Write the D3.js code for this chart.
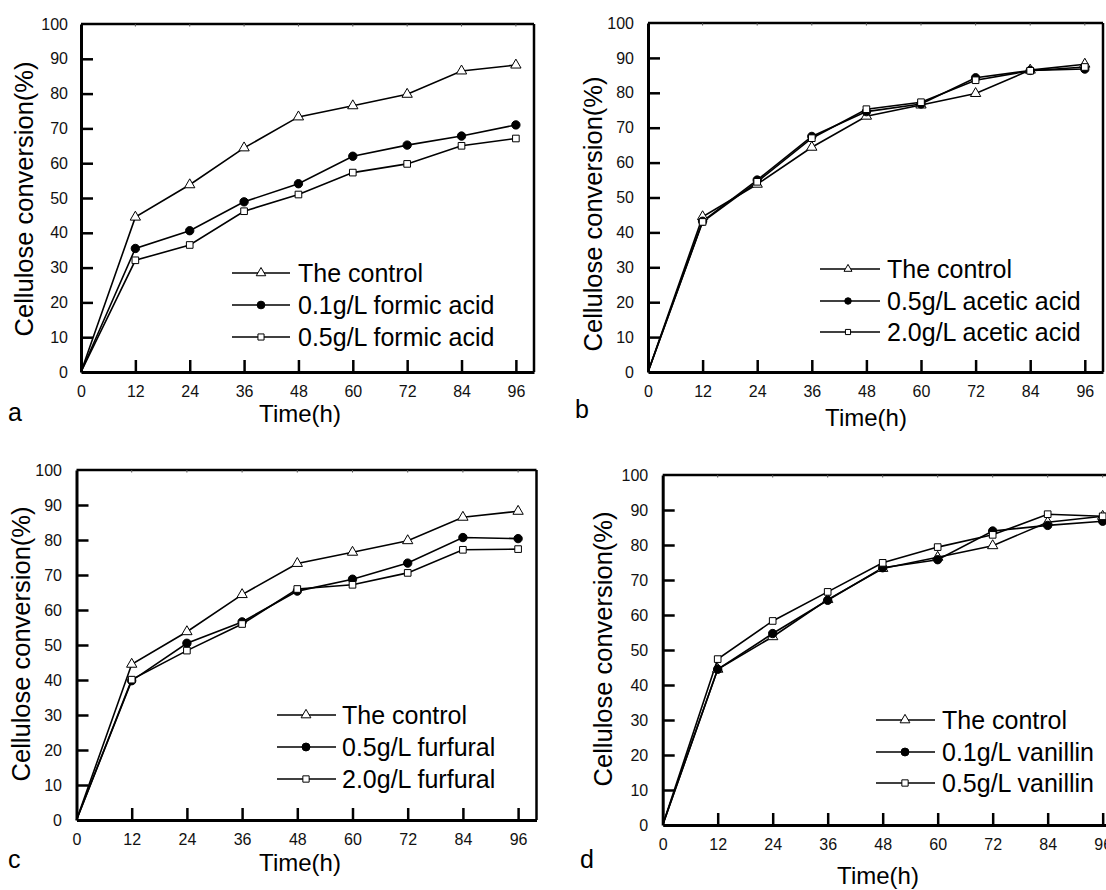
<!DOCTYPE html>
<html>
<head>
<meta charset="utf-8">
<script src="https://cdn.jsdelivr.net/npm/d3@7"></script>
<style>
  body { margin: 0; background: #fff; }
  svg { display: block; font-family: "Liberation Sans", Arial, sans-serif; }
</style>
</head>
<body>
<svg id="chart" width="1106" height="890"></svg>
<script>
// sampling times (h) and tick values
const hours = [0, 12, 24, 36, 48, 60, 72, 84, 96];
const xTicks = [0, 12, 24, 36, 48, 60, 72, 84, 96];
const yTicks = [0, 10, 20, 30, 40, 50, 60, 70, 80, 90, 100];

// cellulose conversion (%)
const control    = [0, 44.5, 53.8, 64.4, 73.3, 76.5, 79.8, 86.5, 88.2];
const formic01   = [0, 35.5, 40.6, 48.9, 54.1, 62.0, 65.2, 67.8, 71.0];
const formic05   = [0, 32.1, 36.5, 46.2, 51.0, 57.3, 59.8, 65.0, 67.1];
const acetic05   = [0, 43.2, 55.0, 67.5, 74.6, 76.8, 84.3, 86.4, 86.8];
const acetic20   = [0, 43.0, 54.5, 67.0, 75.3, 77.3, 83.6, 86.3, 87.4];
const furfural05 = [0, 39.8, 50.5, 56.6, 65.4, 68.8, 73.4, 80.7, 80.4];
const furfural20 = [0, 40.1, 48.4, 56.0, 66.0, 67.2, 70.6, 77.2, 77.4];
const vanillin01 = [0, 44.5, 54.7, 64.2, 73.5, 75.8, 84.0, 85.6, 86.8];
const vanillin05 = [0, 47.4, 58.3, 66.6, 74.9, 79.4, 82.9, 88.8, 88.2];

const markerSize = {triangle: 46, circle: 55, square: 44};

const panels = [
  {letter: 'a', x0: 81, y0: 372, yTop: 24, xr: 4.53,
   tickGap: 13, yTitle: [33, 199], xTitle: [300, 422], letterPos: [8, 421],
   legend: {x1: 232, x2: 290, xm: 261, xt: 298, ys: [273, 305, 337], scale: 0.85},
   series: [
     {name: 'The control', values: control, marker: 'triangle'},
     {name: '0.1g/L formic acid', values: formic01, marker: 'circle'},
     {name: '0.5g/L formic acid', values: formic05, marker: 'square'}
   ]},
  {letter: 'b', x0: 648, y0: 372, yTop: 23, xr: 4.55,
   tickGap: 14, yTitle: [602, 214], xTitle: [866, 426], letterPos: [575, 418],
   legend: {x1: 820, x2: 880, xm: 848, xt: 887, ys: [269, 301, 332], scale: 0.6},
   series: [
     {name: 'The control', values: control, marker: 'triangle'},
     {name: '0.5g/L acetic acid', values: acetic05, marker: 'circle'},
     {name: '2.0g/L acetic acid', values: acetic20, marker: 'square'}
   ]},
  {letter: 'c', x0: 76.5, y0: 820, yTop: 470, xr: 4.6,
   tickGap: 14.5, yTitle: [30, 644], xTitle: [300, 871], letterPos: [8, 868],
   legend: {x1: 277, x2: 336, xm: 306, xt: 342, ys: [715, 747, 779], scale: 0.9},
   series: [
     {name: 'The control', values: control, marker: 'triangle'},
     {name: '0.5g/L furfural', values: furfural05, marker: 'circle'},
     {name: '2.0g/L furfural', values: furfural20, marker: 'square'}
   ]},
  {letter: 'd', x0: 662.7, y0: 825, yTop: 475, xr: 4.583,
   tickGap: 14.5, yTitle: [612, 649], xTitle: [878, 884], letterPos: [580, 868],
   legend: {x1: 876, x2: 935, xm: 905, xt: 942, ys: [720, 752, 783], scale: 0.9},
   series: [
     {name: 'The control', values: control, marker: 'triangle'},
     {name: '0.1g/L vanillin', values: vanillin01, marker: 'circle'},
     {name: '0.5g/L vanillin', values: vanillin05, marker: 'square'}
   ]}
];

const svg = d3.select('#chart');

function symbolFor(marker, k) {
  const type = marker === 'triangle' ? d3.symbolTriangle
             : marker === 'circle' ? d3.symbolCircle : d3.symbolSquare;
  return d3.symbol().type(type).size(markerSize[marker] * k)();
}

function drawPanel(p) {
  const x = d3.scaleLinear().domain([0, 100]).range([p.x0, p.x0 + 100 * p.xr]);
  const y = d3.scaleLinear().domain([0, 100]).range([p.y0, p.yTop]);
  const g = svg.append('g');

  // frame top / right
  g.append('line')
      .attr('x1', x(0)).attr('x2', x(100))
      .attr('y1', y(100)).attr('y2', y(100))
      .attr('stroke', '#000').attr('stroke-width', 2.5);
  g.append('line')
      .attr('x1', x(100)).attr('x2', x(100))
      .attr('y1', y(100)).attr('y2', y(0))
      .attr('stroke', '#000').attr('stroke-width', 2.5);
  // small marks under the top frame
  g.selectAll('.topmark')
      .data(xTicks.slice(1))
    .enter()
    .append('line')
      .attr('x1', d => x(d)).attr('x2', d => x(d))
      .attr('y1', y(100)).attr('y2', y(100) + 2.5)
      .attr('stroke', '#555').attr('stroke-width', 1);

  const yAxis = d3.axisLeft(y)
                  .tickValues(yTicks)
                  .tickSize(-12)
                  .tickSizeOuter(0)
                  .tickPadding(p.tickGap);
  const xAxis = d3.axisBottom(x)
                  .tickValues(xTicks)
                  .tickSize(-12)
                  .tickSizeOuter(0)
                  .tickPadding(14);

  const ya = g.append('g').attr('transform', `translate(${p.x0},0)`).call(yAxis);
  const xa = g.append('g').attr('transform', `translate(0,${p.y0})`).call(xAxis);

  [ya, xa].forEach(a => {
    a.select('.domain').attr('stroke-width', 3);
    a.selectAll('.tick line').attr('stroke-width', 2.5);
    a.selectAll('.tick text')
        .style('font-size', '16px')
        .attr('fill', '#111');
  });
  ya.selectAll('.tick').filter(d => d === 0 || d === 100).select('line').remove();
  xa.selectAll('.tick').filter(d => d === 0).select('line').remove();

  // titles
  g.append('text')
      .attr('transform', `translate(${p.yTitle[0]},${p.yTitle[1]}) rotate(-90)`)
      .attr('text-anchor', 'middle')
      .style('font-size', '25.5px')
      .text('Cellulose conversion(%)');
  g.append('text')
      .attr('x', p.xTitle[0]).attr('y', p.xTitle[1])
      .attr('text-anchor', 'middle')
      .style('font-size', '24px')
      .text('Time(h)');
  g.append('text')
      .attr('x', p.letterPos[0]).attr('y', p.letterPos[1])
      .style('font-size', '25px')
      .text(p.letter);

  // series
  const lineGen = d3.line()
                      .x((d, i) => x(hours[i]))
                      .y(d => y(d));

  p.series.forEach(s => {
    g.append('path')
        .datum(s.values)
        .attr('d', lineGen)
        .attr('fill', 'none')
        .attr('stroke', '#000')
        .attr('stroke-width', 1.6);
  });
  p.series.forEach(s => {
    g.selectAll(null)
        .data(s.values.slice(1))
      .enter()
      .append('path')
        .attr('d', symbolFor(s.marker, 1))
        .attr('transform', (d, i) => `translate(${x(hours[i + 1])},${y(d)})`)
        .attr('fill', s.marker === 'circle' ? '#000' : '#fff')
        .attr('stroke', '#000')
        .attr('stroke-width', 1);
  });

  // legend
  const L = p.legend;
  p.series.forEach((s, idx) => {
    const ly = L.ys[idx];
    g.append('line')
        .attr('x1', L.x1).attr('x2', L.x2)
        .attr('y1', ly).attr('y2', ly)
        .attr('stroke', '#000').attr('stroke-width', 1.6);
    g.append('path')
        .attr('d', symbolFor(s.marker, L.scale))
        .attr('transform', `translate(${L.xm},${ly})`)
        .attr('fill', s.marker === 'circle' ? '#000' : '#fff')
        .attr('stroke', '#000').attr('stroke-width', 1);
    g.append('text')
        .attr('x', L.xt).attr('y', ly)
        .attr('dy', '0.35em')
        .style('font-size', '25px')
        .text(s.name);
  });
}

panels.forEach(drawPanel);
</script>
</body>
</html>
